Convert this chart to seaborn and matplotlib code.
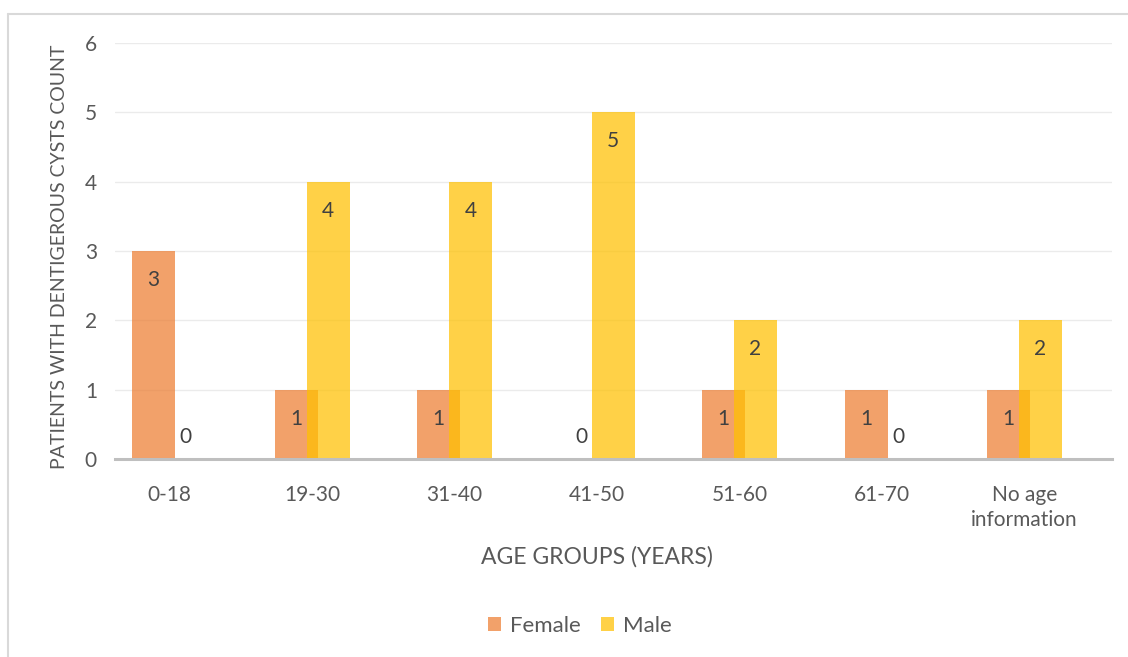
import matplotlib
matplotlib.use("Agg")
import matplotlib.pyplot as plt
import seaborn as sns
import pandas as pd
import numpy as np
from matplotlib.lines import Line2D
from matplotlib.patches import Patch

categories = ["0-18", "19-30", "31-40", "41-50", "51-60", "61-70", "No age\ninformation"]
female = [3, 1, 1, 0, 1, 1, 1]
male = [0, 4, 4, 5, 2, 0, 2]
series = ["Female", "Male"]
yticks = [0, 1, 2, 3, 4, 5, 6]

sns.set_theme(style="white")
plt.rcParams['font.family'] = ['Lato', 'DejaVu Sans']

W, H = 1128, 657
fig = plt.figure(figsize=(W / 100, H / 100), dpi=100)
ax = fig.add_axes([115 / W, (H - 459) / H, (1112 - 115) / W, (459 - 43) / H])

df = pd.DataFrame({
    "cat": categories * 2,
    "val": female + male,
    "sex": ["Female"] * len(categories) + ["Male"] * len(categories),
})

fcol = "#ED7D31"
mcol = "#FFC000"
sns.barplot(data=df, x="cat", y="val", hue="sex", palette=[fcol, mcol],
            ax=ax, legend=False, alpha=0.72, saturation=1, width=0.6)

# adjust bars to overlapping layout
bw = 43 / 142.5
off = 16 / 142.5
for i, cont in enumerate(ax.containers):
    for j, bar in enumerate(cont):
        c = j + (off if i == 1 else -off)
        bar.set_x(c - bw / 2)
        bar.set_width(bw)
        bar.set_linewidth(0)

# labels
for i, cont in enumerate(ax.containers):
    vals = female if i == 0 else male
    for j, bar in enumerate(cont):
        v = vals[j]
        cx = bar.get_x() + bar.get_width() / 2
        if v > 0:
            ax.annotate(str(v), (cx, v), xytext=(0, -29), textcoords="offset pixels",
                        ha="center", va="center", fontsize=15, color="#404040")
        else:
            ax.annotate(str(v), (cx, 0), xytext=(0, 22), textcoords="offset pixels",
                        ha="center", va="center", fontsize=15, color="#404040")

ax.set_xlim(-(169.5 - 115) / 142.5, 6 + (1112 - 1024.5) / 142.5)
ax.set_ylim(0, 6)
ax.set_yticks(yticks)
ax.set_yticklabels([str(t) for t in yticks], fontsize=15, color="#595959")
ax.set_xticks(range(len(categories)))
ax.set_xticklabels(categories, fontsize=15, color="#595959", linespacing=1.3)
ax.tick_params(axis="y", length=0, pad=13)
ax.tick_params(axis="x", length=0, pad=19)
ax.set_xlabel("")
ax.set_ylabel("")
for t in yticks[1:]:
    ax.axhline(t, color="#EBEBEB", lw=1, zorder=0)
for s in ["top", "right", "left"]:
    ax.spines[s].set_visible(False)
ax.spines["bottom"].set_color("#BFBFBF")
ax.spines["bottom"].set_linewidth(2.2)

fig.text(60 / W, 1 - 257 / H, "PATIENTS WITH DENTIGEROUS CYSTS COUNT", rotation=90,
         ha="center", va="center", fontsize=14, color="#595959")
fig.text(597 / W, 1 - 557 / H, "AGE GROUPS (YEARS)", ha="center", va="center",
         fontsize=16.5, color="#595959")

handles = [Patch(facecolor=fcol, alpha=0.72, edgecolor="none"),
           Patch(facecolor=mcol, alpha=0.72, edgecolor="none")]
fig.legend(handles, series, loc="center", bbox_to_anchor=(580 / W, 1 - 626 / H), ncol=2,
           frameon=False, fontsize=16, handlelength=0.6, handleheight=0.6,
           handletextpad=0.4, columnspacing=0.9, labelcolor="#595959")

# chart border
fig.add_artist(Line2D([8 / W, 1], [1 - 14 / H, 1 - 14 / H], transform=fig.transFigure,
                      color="#D9D9D9", lw=1.5))
fig.add_artist(Line2D([8 / W, 8 / W], [0, 1 - 14 / H], transform=fig.transFigure,
                      color="#D9D9D9", lw=1.5))

fig.savefig("out.png", dpi=100, facecolor="white")
